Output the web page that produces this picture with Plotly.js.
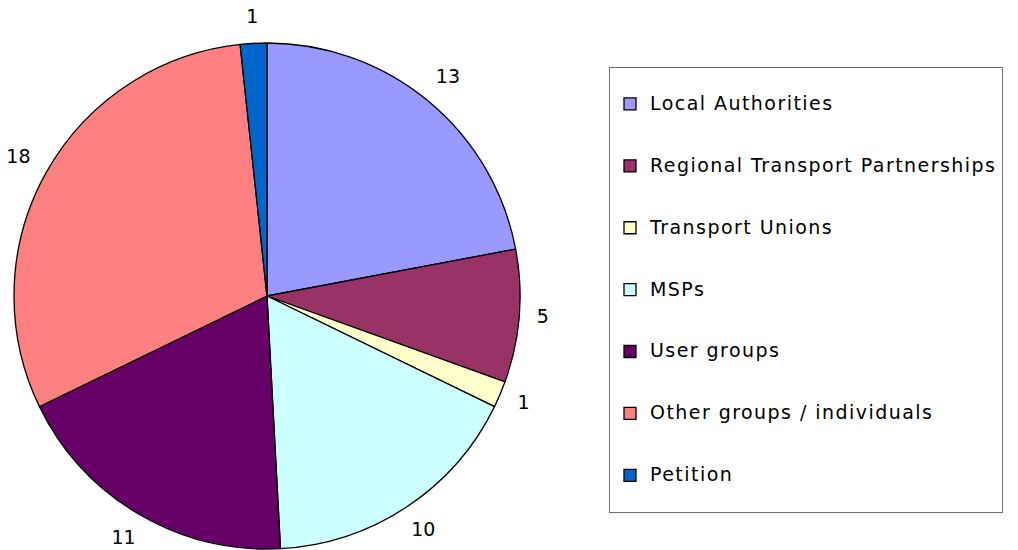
<!DOCTYPE html>
<html>
<head>
<meta charset="utf-8">
<script src="https://cdn.plot.ly/plotly-3.0.1.min.js"></script>
<style>html,body{margin:0;padding:0;background:#fff;overflow:hidden;}#chart{width:1018px;height:550px;}</style>
</head>
<body>
<div id="chart"></div>
<script>
const categories = ["Local Authorities", "Regional Transport Partnerships", "Transport Unions", "MSPs", "User groups", "Other groups / individuals", "Petition"];
const values = [13, 5, 1, 10, 11, 18, 1];
const colors = ["#9999FF", "#993366", "#FFFFCC", "#CCFFFF", "#660066", "#FF8080", "#0066CC"];

const FONT = 'DejaVu Sans, Verdana, sans-serif';
const W = 1018, H = 550;
const CX = 267, CY = 296, R = 253;          // pie centre and radius in pixels
const LABEL_GAP = 17, DIGIT_W = 12, TEXT_H = 15;

const legendLabels = categories.map(c => '<br><span style="font-size:19px;letter-spacing:1.45px">' + c + '</span><br> ');

// label angles (clockwise from 12 o'clock) derived from the values
const total = values.reduce((a, b) => a + b, 0);
let cum = 0;
const midAngles = values.map(v => { const m = (cum + v / 2) / total * 2 * Math.PI; cum += v; return m; });
// distance of each label centre from the pie centre, in radius units (edge gap + half text extent)
const labelR = values.map((v, i) => {
  const a = midAngles[i];
  const half = Math.abs(Math.sin(a)) * DIGIT_W * String(v).length / 2 + Math.abs(Math.cos(a)) * TEXT_H / 2;
  return 1 + (LABEL_GAP + half) / R;
});
const labelX = midAngles.map((a, i) => labelR[i] * Math.sin(a));
const labelY = midAngles.map((a, i) => labelR[i] * Math.cos(a));

const pieDomain = {x: [(CX - R - 14) / W, (CX + R + 14) / W], y: [(H - CY - R) / H, (H - CY + R) / H]};

const pie = {
  type: 'pie',
  labels: legendLabels,
  values: values,
  sort: false,
  direction: 'clockwise',
  rotation: 0,
  marker: {colors: colors, line: {color: '#000000', width: 1.3}},
  textinfo: 'none',
  domain: pieDomain,
  automargin: false,
  hoverinfo: 'none'
};

const labelTrace = {
  type: 'scatter',
  mode: 'text',
  x: labelX,
  y: labelY,
  text: values.map(String),
  textposition: 'middle center',
  textfont: {family: FONT, size: 19, color: '#000000'},
  cliponaxis: false,
  showlegend: false,
  hoverinfo: 'none'
};

const layout = {
  width: W, height: H,
  margin: {l: 0, r: 0, t: 0, b: 0},
  paper_bgcolor: '#ffffff',
  plot_bgcolor: 'rgba(0,0,0,0)',
  showlegend: true,
  xaxis: {domain: [0, 1], range: [-CX / R, (W - CX) / R], visible: false, showgrid: false, zeroline: false, fixedrange: true},
  yaxis: {domain: [0, 1], range: [-(H - CY) / R, CY / R], visible: false, showgrid: false, zeroline: false, fixedrange: true},
  legend: {
    x: 609/1018, xanchor: 'left',
    y: 1 - 67/550, yanchor: 'top',
    bordercolor: '#707070', borderwidth: 1,
    bgcolor: '#ffffff',
    font: {family: FONT, size: 15.1, color: '#000000'},
    entrywidth: 370, entrywidthmode: 'pixels',
    traceorder: 'normal'
  },
  font: {family: FONT, color: '#000000'}
};

Plotly.newPlot('chart', [pie, labelTrace], layout, {displayModeBar: false, staticPlot: true});
</script>
</body>
</html>
